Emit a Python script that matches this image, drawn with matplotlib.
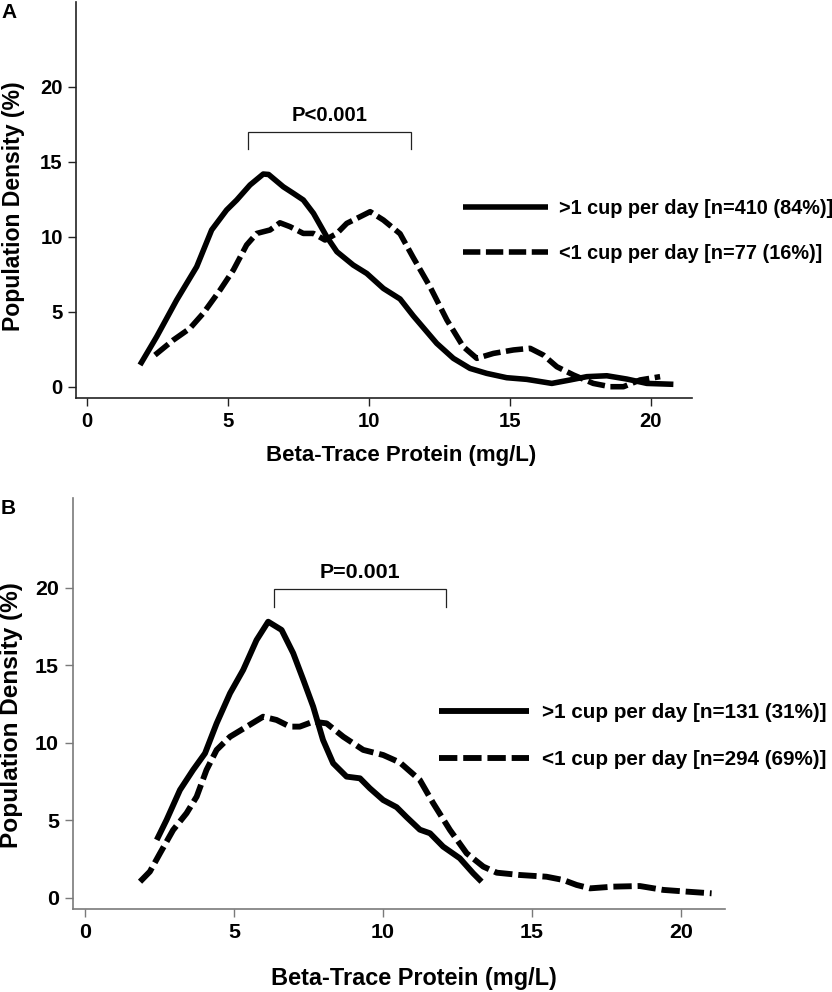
import matplotlib
matplotlib.use('Agg')
import matplotlib.pyplot as plt

plt.rcParams['font.family'] = ['Liberation Sans', 'DejaVu Sans']
plt.rcParams['font.weight'] = 'bold'
plt.rcParams['lines.scale_dashes'] = False

# ---- data (Beta-Trace Protein mg/L vs population density %) ----
# Panel A
a_hi_x = [1.89, 2.48, 3.19, 3.90, 4.43, 4.96, 5.32, 5.79, 6.26, 6.45, 6.97, 7.33, 7.68,
          8.04, 8.51, 8.87, 9.45, 9.93, 10.52, 11.11, 11.58, 12.41, 13.0, 13.59, 14.18,
          14.89, 15.6, 16.49, 17.14, 17.73, 18.44, 19.15, 19.86, 20.8]
a_hi_y = [1.45, 3.33, 5.78, 8.0, 10.45, 11.78, 12.45, 13.45, 14.18, 14.15, 13.33, 12.89, 12.45,
          11.56, 10.0, 9.0, 8.11, 7.55, 6.55, 5.85, 4.72, 2.89, 1.89, 1.22, 0.89,
          0.6, 0.49, 0.22, 0.45, 0.67, 0.73, 0.51, 0.22, 0.16]
a_lo_x = [2.42, 3.07, 3.66, 4.13, 4.73, 5.2, 5.67, 6.03, 6.5, 6.85, 7.21, 7.68, 8.04, 8.45,
          8.87, 9.22, 9.69, 10.05, 10.52, 11.11, 11.58, 12.17, 12.77, 13.35, 13.83, 14.42,
          15.13, 15.72, 16.19, 16.67, 17.26, 17.96, 18.56, 19.03, 19.62, 20.33]
a_lo_y = [2.11, 3.11, 3.89, 4.89, 6.45, 7.78, 9.45, 10.22, 10.45, 10.93, 10.67, 10.22, 10.22,
          9.78, 10.22, 10.89, 11.33, 11.67, 11.11, 10.2, 8.6, 6.67, 4.45, 2.67, 1.89, 2.22,
          2.45, 2.56, 2.11, 1.33, 0.78, 0.22, 0.0, 0.0, 0.45, 0.67]
a_labels = ['>1 cup per day [n=410 (84%)]', '<1 cup per day [n=77 (16%)]']
a_p = 'P<0.001'

# Panel B
b_hi_x = [2.41, 2.74, 3.19, 3.63, 4.03, 4.42, 4.87, 5.31, 5.76, 6.15, 6.6, 6.99, 7.33,
          7.66, 7.99, 8.33, 8.78, 9.23, 9.56, 10.01, 10.46, 10.8, 11.24, 11.58, 12.02,
          12.58, 13.03, 13.31]
b_hi_y = [3.74, 5.03, 6.96, 8.25, 9.32, 11.25, 13.19, 14.69, 16.62, 17.8, 17.27, 15.77, 14.05,
          12.33, 10.18, 8.68, 7.82, 7.71, 7.07, 6.31, 5.85, 5.2, 4.4, 4.17, 3.31,
          2.56, 1.59, 1.05]
b_lo_x = [1.85, 2.18, 2.52, 2.96, 3.41, 3.75, 4.08, 4.42, 4.87, 5.43, 5.98, 6.43, 6.88, 7.21,
          7.66, 8.11, 8.67, 9.34, 10.01, 10.57, 11.24, 11.69, 12.25, 12.81, 13.37, 13.82,
          14.6, 15.49, 16.05, 16.5, 16.95, 17.73, 18.62, 19.41, 20.19, 21.03]
b_lo_y = [1.05, 1.7, 2.88, 4.38, 5.46, 6.53, 8.25, 9.54, 10.39, 11.04, 11.68, 11.47, 11.04, 11.04,
          11.36, 11.25, 10.39, 9.54, 9.21, 8.73, 7.6, 6.1, 4.38, 2.88, 2.02, 1.63,
          1.48, 1.37, 1.16, 0.84, 0.62, 0.73, 0.77, 0.52, 0.41, 0.3]
b_labels = ['>1 cup per day [n=131 (31%)]', '<1 cup per day [n=294 (69%)]']
b_p = 'P=0.001'

xticks = [0, 5, 10, 15, 20]
yticks = [0, 5, 10, 15, 20]

fig = plt.figure(figsize=(8.32, 9.92), dpi=100)


def panel(ax, k, leg_fs, hx, hy, lx, ly, labels, ptext, bracket, ptxt_y, spine_col,
          xlim, ylim, leg_anchor, handle_pt, gap_pt, ylab_pos, xlab_pos):
    # k = scale factor of this panel (panel B is drawn a little larger)
    fs = 14.6 * k
    lw = 4.0 * k
    ax.plot(hx, hy, color='black', lw=lw, solid_joinstyle='round',
            solid_capstyle='butt', label=labels[0])
    ax.plot(lx, ly, color='black', lw=lw, linestyle=(0, (12.5 * k, 4.0 * k)),
            dash_joinstyle='round', dash_capstyle='butt', label=labels[1])
    ax.set_xlim(*xlim)
    ax.set_ylim(*ylim)
    ax.set_xticks(xticks)
    ax.set_yticks(yticks)
    for s in ['top', 'right']:
        ax.spines[s].set_visible(False)
    for s in ['left', 'bottom']:
        ax.spines[s].set_color(spine_col)
        ax.spines[s].set_linewidth(1.2)
    ax.tick_params(axis='both', direction='out', length=5.5 * k, width=1.0,
                   color=spine_col, labelsize=fs)
    ax.tick_params(axis='x', pad=4.5)
    ax.tick_params(axis='y', pad=4)
    for t in ax.get_xticklabels() + ax.get_yticklabels():
        t.set_fontweight('bold')

    ax.set_xlabel('Beta-Trace Protein (mg/L)', fontsize=16 * k, fontweight='bold')
    ax.xaxis.set_label_coords(*xlab_pos)
    ax.xaxis.label.set_va('center')
    ax.set_ylabel('Population Density (%)', fontsize=16.6 * k, fontweight='bold')
    ax.yaxis.set_label_coords(*ylab_pos)
    ax.yaxis.label.set_va('center')

    # significance bracket
    x0, x1, y0, y1 = bracket
    ax.plot([x0, x0, x1, x1], [y0, y1, y1, y0], color='#222222', lw=0.9,
            solid_joinstyle='miter')
    ax.text((x0 + x1) / 2, ptxt_y, ptext, ha='center', va='center',
            fontsize=fs, fontweight='bold')

    ax.legend(loc='center left', bbox_to_anchor=leg_anchor,
              bbox_transform=fig.transFigure, frameon=False, fontsize=leg_fs,
              handlelength=handle_pt / leg_fs, handletextpad=gap_pt / leg_fs,
              labelspacing=1.3 * 14.6 * k / leg_fs, borderpad=0, borderaxespad=0)


axA = fig.add_axes([76 / 832, 1 - 398 / 992, 616 / 832, 396 / 992])
panel(axA, 1.0, 14.3, a_hi_x, a_hi_y, a_lo_x, a_lo_y, a_labels, a_p,
      (5.73, 11.5, 15.85, 16.96), 18.05, '#222222',
      (-0.379, 21.46), (-0.753, 25.65),
      (463.3 / 832, 1 - 230.8 / 992), 61.2, 7.9, (-0.102, 0.4836), (0.5276, -0.144))

axB = fig.add_axes([72.7 / 832, 1 - 909 / 992, 652.3 / 832, 411 / 992])
panel(axB, 1.057, 14.9, b_hi_x, b_hi_y, b_lo_x, b_lo_y, b_labels, b_p,
      (6.35, 12.11, 18.77, 19.89), 20.99, '#7a7a7a',
      (-0.41, 21.48), (-0.71, 25.77),
      (439.3 / 832, 1 - 736.3 / 992), 64.8, 8.9, (-0.0935, 0.472), (0.5232, -0.168))

fig.text(9 / 832, 1 - 12 / 992, 'A', ha='center', va='center', fontsize=15, fontweight='bold')
fig.text(8 / 832, 1 - 509 / 992, 'B', ha='center', va='center', fontsize=15, fontweight='bold')

fig.savefig('out.png', dpi=100)
